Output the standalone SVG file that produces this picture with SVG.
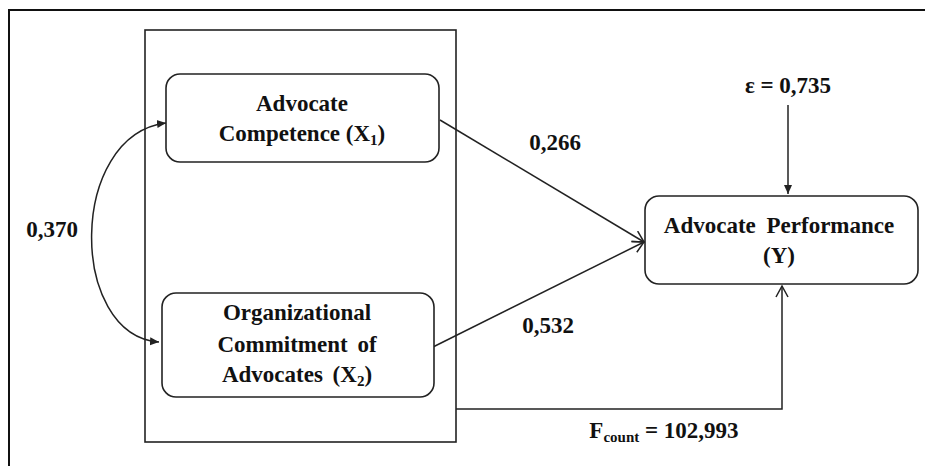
<svg xmlns="http://www.w3.org/2000/svg" width="925" height="466" viewBox="0 0 925 466">
<style>
.t{font-family:"Liberation Serif","Times New Roman",serif;font-weight:bold;font-size:23px;fill:#111;text-anchor:middle}
.s{font-size:15px}
.box{fill:#fff;stroke:#222;stroke-width:1.6}
.ln{fill:none;stroke:#222;stroke-width:1.5}
</style>
<defs>
<marker id="fa" markerWidth="10" markerHeight="10" refX="9" refY="5" orient="auto-start-reverse" markerUnits="userSpaceOnUse">
<path d="M0,1 L9,5 L0,9 Z" fill="#222"/>
</marker>
<marker id="oa" markerWidth="14" markerHeight="14" refX="12" refY="7" orient="auto" markerUnits="userSpaceOnUse">
<path d="M1,1 L12,7 L1,13" fill="none" stroke="#222" stroke-width="1.5"/>
</marker>
</defs>
<rect width="925" height="466" fill="#fff"/>
<g id="frame">
<path d="M9,470 V10 H930" fill="none" stroke="#111" stroke-width="2"/>
<rect x="145" y="30" width="311" height="412" fill="none" stroke="#222" stroke-width="1.6"/>
</g>
<g id="connectors">
<path class="ln" d="M166,123 C68,135 68,335 159,342" marker-start="url(#fa)" marker-end="url(#fa)"/>
<path class="ln" d="M440,120 L644,242" marker-end="url(#oa)"/>
<path class="ln" d="M433,347 L644,242" marker-end="url(#oa)"/>
<path class="ln" d="M788,105 L788,194" marker-end="url(#fa)"/>
<path class="ln" d="M456,409 H782 V286" marker-end="url(#oa)"/>
</g>
<g id="x1">
<rect class="box" x="166" y="74" width="273" height="88" rx="14"/>
<text class="t" x="302" y="111">Advocate</text>
<text class="t" x="302" y="141">Competence (X<tspan class="s" dy="4">1</tspan><tspan dy="-4">)</tspan></text>
</g>
<g id="x2">
<rect class="box" x="162" y="293" width="272" height="104" rx="14"/>
<text class="t" x="297" y="320">Organizational</text>
<text class="t" x="297" y="352" word-spacing="4">Commitment of</text>
<text class="t" x="297" y="382" word-spacing="4">Advocates (X<tspan class="s" dy="4">2</tspan><tspan dy="-4">)</tspan></text>
</g>
<g id="y">
<rect class="box" x="645" y="196" width="273" height="88" rx="14"/>
<text class="t" x="779" y="233" word-spacing="5">Advocate Performance</text>
<text class="t" x="779" y="263">(Y)</text>
</g>
<g id="labels">
<text class="t" x="788" y="93">ε = 0,735</text>
<text class="t" x="555" y="150">0,266</text>
<text class="t" x="548" y="333">0,532</text>
<text class="t" x="52" y="237">0,370</text>
<text class="t" x="664" y="438">F<tspan class="s" dy="4">count</tspan><tspan dy="-4"> = 102,993</tspan></text>
</g>
</svg>
